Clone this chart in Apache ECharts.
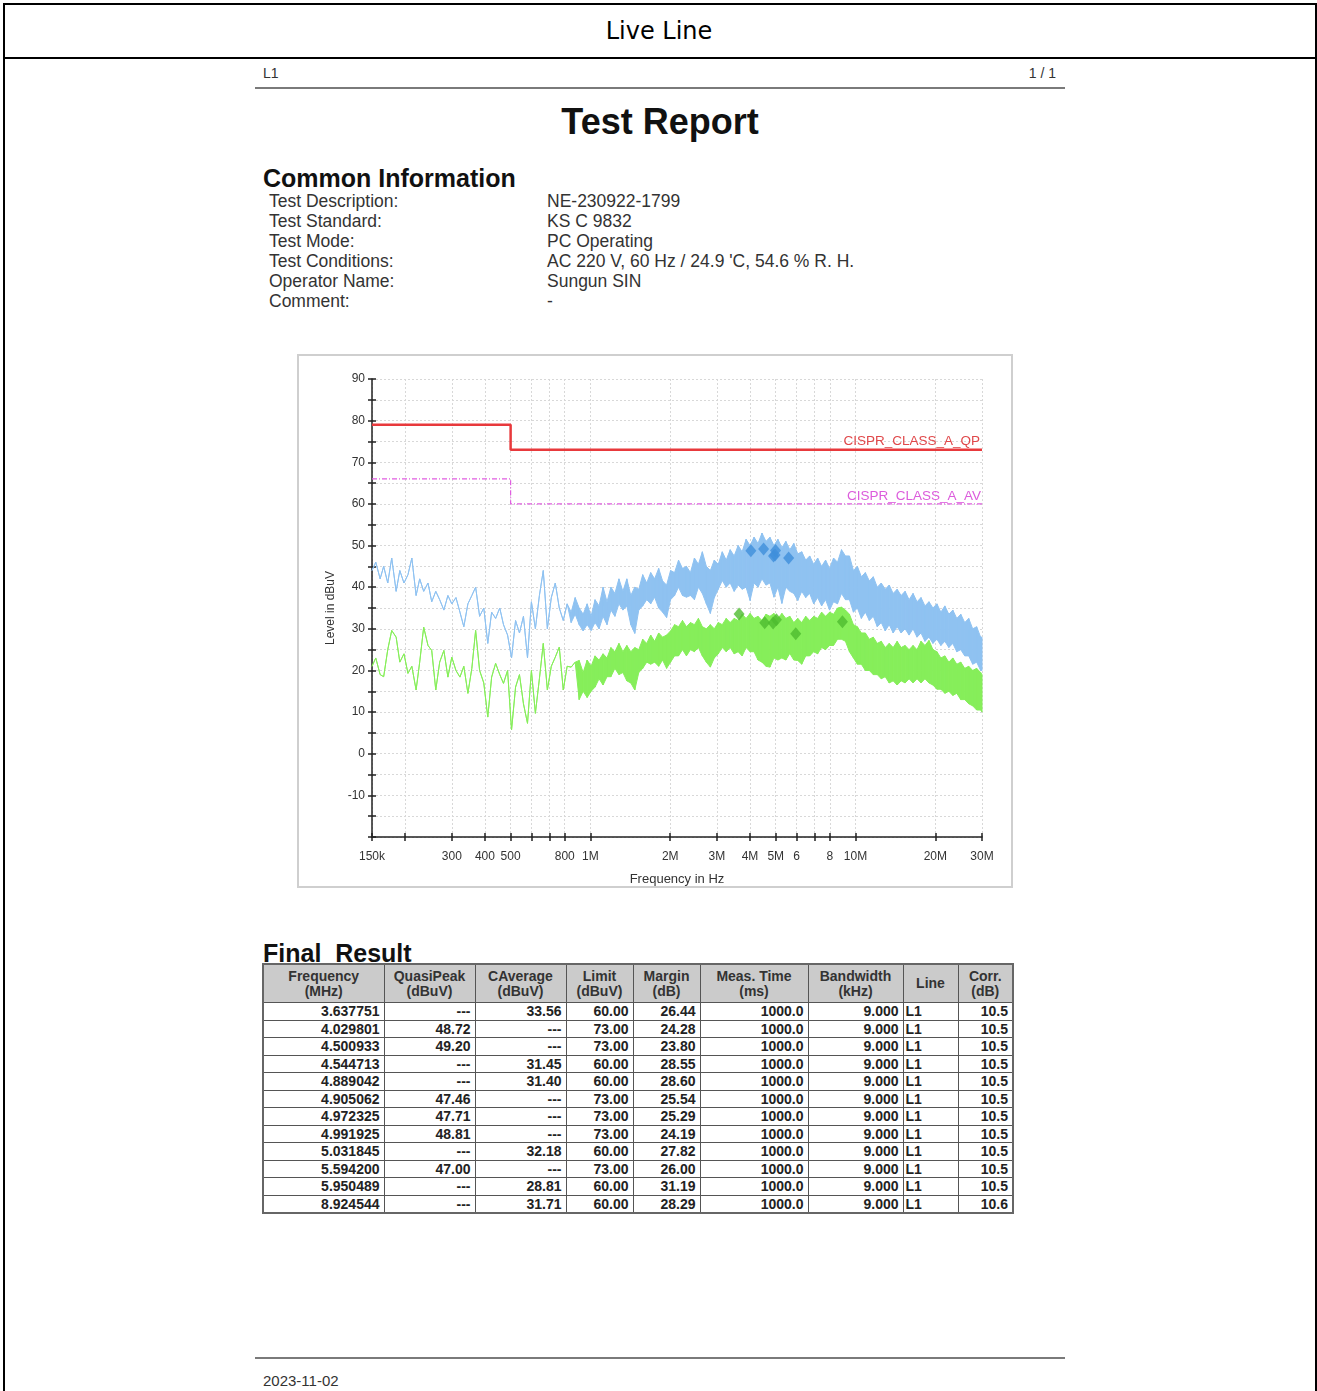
<!DOCTYPE html>
<html>
<head>
<meta charset="utf-8">
<title>Live Line</title>
<script src="https://cdn.jsdelivr.net/npm/echarts@6.0.0/dist/echarts.min.js"></script>
<style>
html, body { margin: 0; padding: 0; background: #fff; }
body { width: 1317px; height: 1391px; position: relative; overflow: hidden; font-family: "Liberation Sans", Arial, sans-serif; color: #222; }
.frame { position: absolute; left: 3px; top: 3px; width: 1314px; height: 1400px; border: 2px solid #000; box-sizing: border-box; }
.bar { position: absolute; left: 3px; top: 57px; width: 1314px; height: 2px; background: #000; }
.title { position: absolute; left: 3px; top: 5px; width: 1312px; height: 52px; line-height: 52px; text-align: center; font-family: "DejaVu Sans", sans-serif; font-size: 24px; color: #000; }
.rule { position: absolute; left: 255px; width: 810px; height: 2px; background: #7a7a7a; }
.small { position: absolute; font-size: 14px; line-height: 16px; color: #333; }
.report { position: absolute; left: 0; top: 100px; width: 1320px; text-align: center; font-size: 36px; font-weight: bold; line-height: 44px; color: #111; }
.h2 { position: absolute; left: 263px; font-size: 25px; font-weight: bold; line-height: 28px; color: #111; white-space: pre; }
.info { position: absolute; font-size: 17.5px; line-height: 20px; color: #333; white-space: pre; }
#chart { position: absolute; left: 297px; top: 354px; width: 716px; height: 534px; border: 2px solid #cfcfcf; box-sizing: border-box; }
#result { position: absolute; left: 262px; top: 963px; border-collapse: collapse; border: 2px solid #666; font-size: 14px; font-weight: bold; color: #222; table-layout: fixed; }
#result th { background: #cbcbcb; color: #333; height: 37px; line-height: 15px; padding: 0 2px; border: 1px solid #555; text-align: center; vertical-align: middle; font-size: 14px; }
#result td { height: 16.5px; line-height: 16px; padding: 0 4px 0 2px; border: 1px solid #555; text-align: right; white-space: nowrap; overflow: hidden; }
#result td.left { text-align: left; }
.date { position: absolute; left: 263px; top: 1372px; font-size: 15px; line-height: 18px; color: #333; }
</style>
</head>
<body>
<div class="frame"></div>
<div class="bar"></div>
<div class="title">Live Line</div>
<div class="small" style="left:263px; top:65px;">L1</div>
<div class="small" style="left:990px; top:65px; width:66px; text-align:right;">1 / 1</div>
<div class="rule" style="top:87px;"></div>
<div class="report">Test Report</div>
<div class="h2" style="top:164px;">Common Information</div>
<div id="info"></div>
<div id="chart"></div>
<div class="h2" style="top:939px;">Final  Result</div>
<table id="result"></table>
<div class="rule" style="top:1357px;"></div>
<div class="date">2023-11-02</div>
<script>
// ---- common information ----
var infoLabels = ["Test Description:", "Test Standard:", "Test Mode:", "Test Conditions:", "Operator Name:", "Comment:"];
var infoValues = ["NE-230922-1799", "KS C 9832", "PC Operating", "AC 220 V, 60 Hz / 24.9 'C, 54.6 % R. H.", "Sungun SIN", "-"];

// ---- final result table ----
var resFreq = ["3.637751", "4.029801", "4.500933", "4.544713", "4.889042", "4.905062", "4.972325", "4.991925", "5.031845", "5.594200", "5.950489", "8.924544"];
var resQP = [null, 48.72, 49.20, null, null, 47.46, 47.71, 48.81, null, 47.00, null, null];
var resCAV = [33.56, null, null, 31.45, 31.40, null, null, null, 32.18, null, 28.81, 31.71];
var resLimit = [60, 73, 73, 60, 60, 73, 73, 73, 60, 73, 60, 60];
var resMargin = [26.44, 24.28, 23.80, 28.55, 28.60, 25.54, 25.29, 24.19, 27.82, 26.00, 31.19, 28.29];
var resTime = [1000, 1000, 1000, 1000, 1000, 1000, 1000, 1000, 1000, 1000, 1000, 1000];
var resBw = [9, 9, 9, 9, 9, 9, 9, 9, 9, 9, 9, 9];
var resLine = ["L1", "L1", "L1", "L1", "L1", "L1", "L1", "L1", "L1", "L1", "L1", "L1"];
var resCorr = [10.5, 10.5, 10.5, 10.5, 10.5, 10.5, 10.5, 10.5, 10.5, 10.5, 10.5, 10.6];
var resHeads = [["Frequency", "(MHz)"], ["QuasiPeak", "(dBuV)"], ["CAverage", "(dBuV)"], ["Limit", "(dBuV)"], ["Margin", "(dB)"], ["Meas. Time", "(ms)"], ["Bandwidth", "(kHz)"], ["Line", ""], ["Corr.", "(dB)"]];
var resWidths = [121, 91, 91, 67, 67, 108, 95, 55, 55];

// ---- spectrum (frequency in kHz, level in dBuV) ----
var freqKHz = [150, 155, 161, 166, 172, 178, 185, 191, 198, 205,
  212, 220, 227, 235, 244, 252, 261, 270, 280, 290,
  300, 311, 322, 333, 345, 357, 369, 382, 396, 410,
  424, 439, 455, 470, 487, 504, 522, 540, 559, 579,
  599, 620, 642, 664, 688, 712, 737, 763, 790, 817,
  846, 876, 907, 939, 972, 1006, 1041, 1078, 1116, 1155,
  1195, 1237, 1281, 1326, 1372, 1420, 1470, 1522, 1575, 1631,
  1688, 1747, 1809, 1872, 1938, 2006, 2077, 2150, 2225, 2303,
  2384, 2468, 2555, 2644, 2737, 2834, 2933, 3036, 3143, 3253,
  3367, 3486, 3608, 3735, 3866, 4002, 4142, 4288, 4438, 4594,
  4756, 4923, 5096, 5275, 5460, 5652, 5850, 6056, 6268, 6489,
  6717, 6953, 7197, 7450, 7711, 7982, 8263, 8553, 8853, 9164,
  9486, 9820, 10165, 10522, 10892, 11274, 11670, 12080, 12505, 12944,
  13399, 13869, 14357, 14861, 15383, 15924, 16483, 17062, 17662, 18282,
  18925, 19590, 20278, 20990, 21728, 22491, 23281, 24099, 24946, 25823,
  26730, 27669, 28641, 29648, 30000];

// peak trace: upper envelope for every point
var peakHi = [44, 46, 42, 45, 41, 47, 39, 44, 41, 43,
  47, 38, 42, 39, 41, 36.5, 39, 37, 34.5, 38,
  36, 37.5, 34, 30.5, 36, 38, 40, 33, 35, 26.5,
  34, 32.5, 35, 31, 28.5, 23, 32, 29, 33, 23,
  36.5, 30, 38, 44, 30, 37.5, 41, 35, 32, 36,
  34, 37.5, 35, 33.5, 36, 33, 37, 35.5, 40, 36.5,
  40, 38.5, 42, 39, 42, 38, 40, 39.5, 43, 41,
  43.5, 42, 44.5, 41.5, 40.5, 44, 43.5, 46.5, 44.5, 45,
  43.5, 47, 45.5, 48.5, 45, 44, 46.5, 45.5, 48.5, 46.5,
  49, 47.5, 50, 48.5, 51.5, 50, 52, 50.5, 53, 51,
  52, 50, 51.5, 49.5, 51, 49, 50.5, 48, 48.5, 46.5,
  47.5, 45.5, 47, 45, 46.5, 44.5, 47, 46, 49, 47.5,
  47.5, 44, 45, 42.5, 43.5, 41.5, 42.5, 40, 41, 39.5,
  40.5, 38.5, 39.5, 38, 39, 37, 38.5, 36.5, 37.5, 35.5,
  36.5, 35, 36, 34, 35.5, 33.5, 34.5, 32.5, 33.5, 31.5,
  32.5, 30, 30.5, 28, 28];
// peak trace: lower envelope where it widens into a band (from index bandStart)
var bandStart = 50;
var peakLo = [31.5, 33.5, 31, 29.5, 31, 29.6, 31.5, 30, 33, 31,
  34.5, 33, 36, 34.5, 35.5, 31, 28.9, 34.5, 35.5, 37,
  36, 37.6, 35, 34, 32.7, 37, 38, 40, 38, 37.6,
  38, 37, 40, 38.5, 36, 33.7, 37.5, 39.5, 41.6, 40,
  41, 39, 40.5, 39.5, 40, 36.8, 41, 40, 42, 40.5,
  41, 37.6, 40, 36.1, 40, 39, 38.5, 36.8, 39, 37.5,
  38.5, 36, 37.5, 35.5, 37, 34.5, 36.5, 36, 38.5, 37,
  37, 34, 35, 32.5, 34, 32, 33, 30.5, 31.5, 29.5,
  31, 29, 30.5, 29, 30, 28.5, 30, 28, 29, 27,
  28, 26.5, 27.5, 26, 27, 25.5, 26.5, 24.5, 25, 23.5,
  23.5, 21.5, 22, 20, 20];

// average trace
var avgHi = [21, 23, 19, 18.5, 25, 29.6, 28, 22, 24, 19.3,
  21, 15.3, 22, 30.4, 26, 24.8, 15.3, 22, 24.8, 18.4,
  23.2, 20, 18.4, 21, 14.5, 20.5, 29.6, 20, 17, 8.8,
  18.4, 21.7, 19, 16.9, 20, 5.7, 16, 19, 12, 7.3,
  20, 9.7, 18, 26.5, 15.3, 21, 23.2, 25.6, 15.3, 21,
  20.8, 22, 22.4, 19.5, 22.5, 21, 23.5, 22.5, 24, 23,
  25.5, 24.5, 26.5, 24.5, 26, 24.5, 25.5, 25, 27.5, 26.5,
  28.5, 27, 29, 28, 28.5, 29.5, 31, 30.5, 32, 30.5,
  31.5, 31, 32.5, 30.5, 30, 31, 30, 31.5, 31, 32.5,
  31.5, 32.5, 32, 33.5, 32.5, 33.7, 32.5, 33, 32, 33.5,
  33, 33.7, 32.5, 33.7, 32.5, 33, 31.5, 32.5, 31.5, 33,
  32, 33, 32.5, 34, 33, 34, 33.5, 35, 35.2, 34.5,
  33.5, 31, 30.5, 29, 29, 27.5, 28, 26.5, 27, 25.5,
  26.5, 25.5, 27, 25.5, 26, 25, 26, 25, 27, 26,
  27.2, 25, 24.5, 23, 23.5, 22, 23, 21.5, 22, 20.5,
  21, 20, 20.5, 19.5, 19];
var avgLo = [20.8, 22, 13, 15, 13.5, 15, 16, 18, 16.5, 18.5,
  18.5, 20.5, 19, 19.5, 17.5, 17, 15.3, 19.5, 20.5, 22,
  21.5, 22, 21, 22.5, 20.5, 22, 23.5, 23.5, 25, 23.5,
  25, 24.5, 25.5, 23.5, 22, 20.8, 23, 24, 25.5, 24.5,
  25.5, 24, 24.5, 23.5, 25.5, 24.5, 24.5, 22.5, 22, 21,
  20.8, 23, 22.5, 23, 22.5, 24.1, 22.5, 22.4, 21.5, 23.5,
  23.5, 24.5, 24, 25.5, 25, 26, 26, 27.5, 27.5, 27,
  24.5, 23, 21.5, 21.5, 20, 20, 19, 19, 18, 18.5,
  17, 17.5, 16.5, 17.5, 17, 18, 17, 18, 17, 18,
  17, 16.5, 15.5, 15.5, 14.5, 15, 14, 14.5, 13, 13,
  12, 11.5, 10.5, 10.5, 10];

// ---- limit lines (Hz, dBuV) ----
var limitHz = [150e3, 500e3, 500e3, 30e6];
var qpLimit = [79, 79, 73, 73];
var avLimit = [66, 66, 60, 60];

// ---- axis ticks ----
var tickHz = [150e3, 200e3, 300e3, 400e3, 500e3, 600e3, 700e3, 800e3, 1e6, 2e6, 3e6, 4e6, 5e6, 6e6, 7e6, 8e6, 10e6, 20e6, 30e6];
var labelHz = [150e3, 300e3, 400e3, 500e3, 800e3, 1e6, 2e6, 3e6, 4e6, 5e6, 6e6, 8e6, 10e6, 20e6, 30e6];
var labelText = ["150k", "300", "400", "500", "800", "1M", "2M", "3M", "4M", "5M", "6", "8", "10M", "20M", "30M"];

var FONT = '"Liberation Sans", Arial, sans-serif';
var PEAK_COLOR = "#8fc2f1";
var AVG_COLOR = "#86ee5a";

function lg(hz) { return Math.log10(hz); }

function buildInfo() {
	var html = "";
	for (var i = 0; i < infoLabels.length; i++) {
		var top = 191 + i * 20;
		html += '<div class="info" style="left:269px;top:' + top + 'px">' + infoLabels[i] + '</div>';
		html += '<div class="info" style="left:547px;top:' + top + 'px">' + infoValues[i] + '</div>';
	}
	document.getElementById("info").innerHTML = html;
}

function fix(v, n) { return v == null ? "---" : v.toFixed(n); }

function buildTable() {
	var html = "<colgroup>";
	for (var c = 0; c < resWidths.length; c++) {
		html += '<col style="width:' + resWidths[c] + 'px">';
	}
	html += "</colgroup><tr>";
	for (var h = 0; h < resHeads.length; h++) {
		html += "<th>" + resHeads[h][0] + "<br>" + resHeads[h][1] + "</th>";
	}
	html += "</tr>";
	for (var i = 0; i < resFreq.length; i++) {
		html += "<tr><td>" + resFreq[i] + "</td><td>" + fix(resQP[i], 2) + "</td><td>" + fix(resCAV[i], 2) +
			"</td><td>" + fix(resLimit[i], 2) + "</td><td>" + fix(resMargin[i], 2) + "</td><td>" + fix(resTime[i], 1) +
			"</td><td>" + fix(resBw[i], 3) + '</td><td class="left">' + resLine[i] + "</td><td>" + fix(resCorr[i], 1) + "</td></tr>";
	}
	document.getElementById("result").innerHTML = html;
}

// one quad per sweep step: upper envelope to lower envelope
function bandData(hi, lo) {
	var data = [];
	for (var i = 0; i < freqKHz.length - 1; i++) {
		var l0 = i < bandStart ? hi[i] : lo[i - bandStart];
		var l1 = i + 1 < bandStart ? hi[i + 1] : lo[i + 1 - bandStart];
		data.push([lg(freqKHz[i] * 1e3), hi[i], l0, lg(freqKHz[i + 1] * 1e3), hi[i + 1], l1]);
	}
	return data;
}

function bandRender(color) {
	return function (params, api) {
		var a = api.coord([api.value(0), api.value(1)]);
		var b = api.coord([api.value(3), api.value(4)]);
		var c = api.coord([api.value(3), api.value(5)]);
		var d = api.coord([api.value(0), api.value(2)]);
		return {
			type: "polygon",
			shape: { points: [a, b, c, d] },
			style: { fill: color, stroke: color, lineWidth: 1, lineJoin: "round" }
		};
	};
}

function limitData(levels) {
	var data = [];
	for (var i = 0; i < limitHz.length; i++) {
		data.push([lg(limitHz[i]), levels[i]]);
	}
	return data;
}

function markerData(levels) {
	var data = [];
	for (var i = 0; i < resFreq.length; i++) {
		if (levels[i] != null) {
			data.push([lg(parseFloat(resFreq[i]) * 1e6), levels[i]]);
		}
	}
	return data;
}

function freqLabel(v) {
	var hz = Math.pow(10, v);
	for (var i = 0; i < labelHz.length; i++) {
		if (Math.abs(labelHz[i] - hz) / hz < 1e-6) return labelText[i];
	}
	return "";
}

function limitLabel(text, level, color, dist) {
	return {
		silent: true,
		symbol: "none",
		lineStyle: { color: "rgba(0,0,0,0)", width: 0 },
		label: { show: true, position: "insideEndTop", distance: dist, formatter: text, color: color, fontSize: 13.5, fontFamily: FONT },
		data: [[{ coord: [lg(500e3), level] }, { coord: [lg(30e6), level] }]]
	};
}

buildInfo();
buildTable();

var xMin = lg(150e3), xMax = lg(30e6);
var chart = echarts.init(document.getElementById("chart"));
chart.setOption({
	animation: false,
	grid: { left: 73, right: 29, top: 23, bottom: 49, containLabel: false, outerBoundsMode: "none" },
	xAxis: [{
		type: "value",
		min: xMin,
		max: xMax,
		position: "bottom",
		name: "Frequency in Hz",
		nameLocation: "middle",
		nameGap: 36,
		nameTextStyle: { fontSize: 13, color: "#333", fontFamily: FONT },
		axisLine: { onZero: false, lineStyle: { color: "#222", width: 1.5 } },
		axisTick: { customValues: tickHz.map(lg), length: 4, lineStyle: { color: "#222", width: 1.5 } },
		axisLabel: { customValues: labelHz.map(lg), formatter: freqLabel, margin: 14, fontSize: 12, color: "#333", fontFamily: FONT },
		splitLine: { show: true, lineStyle: { color: "#d8d8d8", type: [2, 2] } }
	}, {
		// inner half of the crossing ticks
		type: "value",
		min: xMin,
		max: xMax,
		position: "bottom",
		axisLine: { show: false, onZero: false },
		axisTick: { inside: true, customValues: tickHz.map(lg), length: 4, lineStyle: { color: "#222", width: 1.5 } },
		axisLabel: { show: false },
		splitLine: { show: false }
	}],
	yAxis: [{
		type: "value",
		min: -20,
		max: 90,
		interval: 5,
		position: "left",
		name: "Level in dBuV",
		nameLocation: "middle",
		nameGap: 34,
		nameTextStyle: { fontSize: 12, color: "#333", fontFamily: FONT },
		axisLine: { show: true, onZero: false, lineStyle: { color: "#222", width: 1.5 } },
		axisTick: { show: true, length: 4, lineStyle: { color: "#222", width: 1.5 } },
		axisLabel: {
			margin: 7, fontSize: 12, color: "#333", fontFamily: FONT,
			formatter: function (v) { return (v % 10 === 0 && v > -20) ? String(v) : ""; }
		},
		splitLine: { show: true, lineStyle: { color: "#d8d8d8", type: [2, 2] } }
	}, {
		type: "value",
		min: -20,
		max: 90,
		interval: 5,
		position: "left",
		axisLine: { show: false, onZero: false },
		axisTick: { show: true, inside: true, length: 4, lineStyle: { color: "#222", width: 1.5 } },
		axisLabel: { show: false },
		splitLine: { show: false }
	}],
	series: [
		{
			name: "Peak", type: "custom", silent: true,
			renderItem: bandRender(PEAK_COLOR),
			encode: { x: [0, 3], y: [1, 2, 4, 5] },
			data: bandData(peakHi, peakLo)
		},
		{
			name: "Average", type: "custom", silent: true,
			renderItem: bandRender(AVG_COLOR),
			encode: { x: [0, 3], y: [1, 2, 4, 5] },
			data: bandData(avgHi, avgLo)
		},
		{
			name: "CISPR_CLASS_A_QP", type: "line", symbol: "none", silent: true,
			lineStyle: { color: "#e8393c", width: 2.5 },
			data: limitData(qpLimit),
			markLine: limitLabel("CISPR_CLASS_A_QP", 73, "#e0484a", 2)
		},
		{
			name: "CISPR_CLASS_A_AV", type: "line", symbol: "none", silent: true,
			lineStyle: { color: "#e05ee0", width: 1.2, type: [5, 2, 1, 2] },
			data: limitData(avLimit),
			markLine: limitLabel("CISPR_CLASS_A_AV", 60, "#dc5cdc", 1)
		},
		{
			name: "QuasiPeak", type: "scatter", symbol: "diamond", symbolSize: [11, 13], silent: true,
			itemStyle: { color: "#3f8fdb" },
			data: markerData(resQP)
		},
		{
			name: "CAverage", type: "scatter", symbol: "diamond", symbolSize: [11, 13], silent: true,
			itemStyle: { color: "#4dbb2f" },
			data: markerData(resCAV)
		}
	]
});
</script>
</body>
</html>
